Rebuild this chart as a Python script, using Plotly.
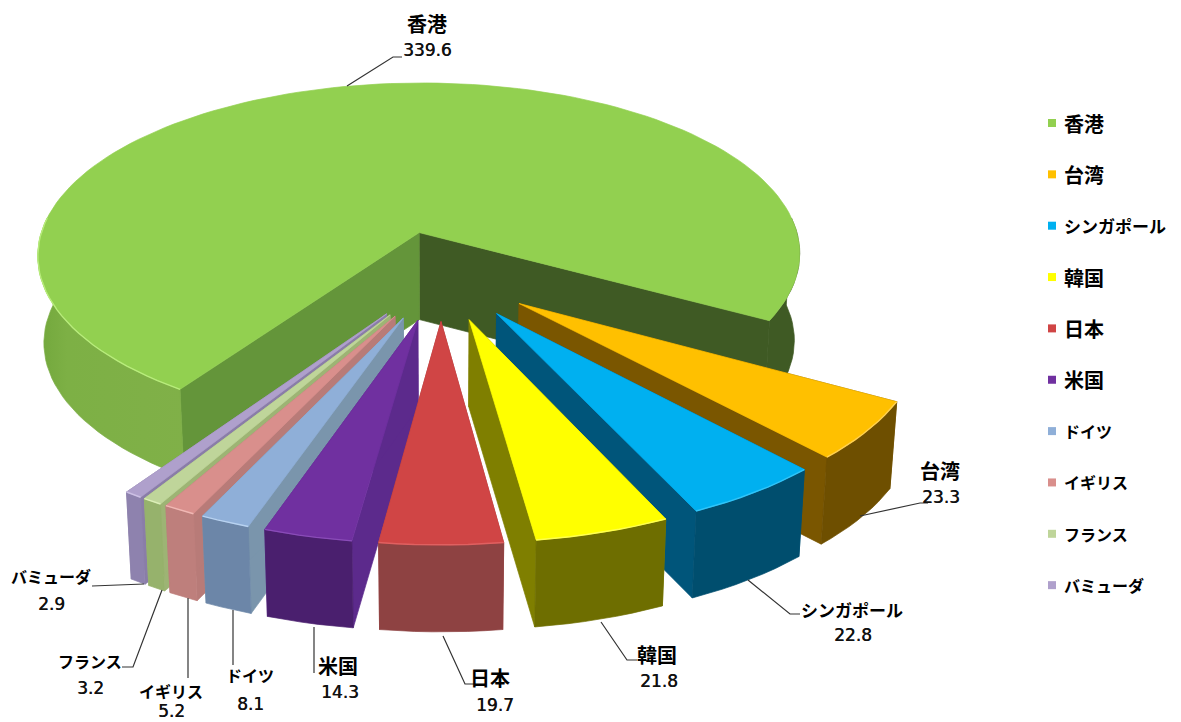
import math
import plotly.graph_objects as go

# Share of the total by market, clockwise from the first slice
categories = ["香港", "台湾", "シンガポール", "韓国", "日本", "米国", "ドイツ", "イギリス", "フランス", "バミューダ"]
values = [339.6, 23.3, 22.8, 21.8, 19.7, 14.3, 8.1, 5.2, 3.2, 2.9]
value_labels = ["339.6", "23.3", "22.8", "21.8", "19.7", "14.3", "8.1", "5.2", "3.2", "2.9"]
name_sizes = [20, 20, 17, 20, 20, 20, 16, 16, 16, 16]

top_colors = ["#92D050", "#FFC000", "#00B0F0", "#FFFF00", "#D04545", "#7030A0", "#8FAFD8", "#D98F8C", "#BFD59A", "#AFA0CC"]
wall_colors = ["#7BAD45", "#6E4F00", "#004E6E", "#6E6E00", "#8E4242", "#4A1F6E", "#6C86A8", "#BE7F7C", "#96B26C", "#8E82AE"]
face_colors = ["#64953A", "#7A5600", "#00557A", "#7F7F00", "#A03A3A", "#5C2A8C", "#7A95AC", "#B87B78", "#9DB474", "#8A7DA8"]
rim_colors = ["#B8EC7C", "#FFD050", "#30C4F8", "#FFFF50", "#E06060", "#8A4CB8", "#B8D2F0", "#F0B8B4", "#DCEEB8", "#CCC0E4"]

# Projection of the tilted pie onto the page, in page pixels
CX, CY = 441.0, 275.0
RX, RY = 390.0, 180.0
PERSPECTIVE = 0.133
EXPLODE = 0.25
DEPTH = 87.0
FIRST_ANGLE = 214.0


def project(xw, yw, z):
    s = 1.0 / (1.0 - PERSPECTIVE * yw)
    return CX + RX * xw * s * (1.0 - 0.015 * z), CY + RY * yw * s + DEPTH * z


def slice_point(mid, r, ang, z):
    m, a = math.radians(mid), math.radians(ang)
    xw = EXPLODE * math.sin(m) + r * math.sin(a)
    yw = -EXPLODE * math.cos(m) - r * math.cos(a)
    return project(xw, yw, z)


def arc(mid, a0, a1, z, step=2.0):
    n = max(2, int(abs(a1 - a0) / step) + 1)
    pts = [slice_point(mid, 1.0, a0 + (a1 - a0) * i / (n - 1), z) for i in range(n)]
    return pts


def front_spans(a0, a1):
    # Parts of the arc that face the viewer, clock angles 85..275 modulo 360
    spans = []
    for base in (85.0, 445.0):
        lo, hi = max(a0, base), min(a1, base + 190.0)
        if lo < hi:
            spans.append((lo, hi))
    return spans


fig = go.Figure()


def poly(pts, color, gradient=None):
    xs = [p[0] for p in pts] + [pts[0][0]]
    ys = [p[1] for p in pts] + [pts[0][1]]
    kw = dict(fillcolor=color)
    if gradient:
        kw = dict(fillgradient=dict(type="horizontal", colorscale=gradient))
    fig.add_trace(go.Scatter(x=xs, y=ys, mode="lines", fill="toself", line=dict(width=0.7, color=color),
                             hoverinfo="skip", showlegend=False, **kw))


def line(pts, color, width):
    fig.add_trace(go.Scatter(x=[p[0] for p in pts], y=[p[1] for p in pts], mode="lines",
                             line=dict(color=color, width=width), hoverinfo="skip", showlegend=False))


total = sum(values)
spans = []
angle = FIRST_ANGLE
for v in values:
    sweep = v / total * 360.0
    spans.append((angle, angle + sweep))
    angle += sweep


def draw_slice(i):
    a0, a1 = spans[i]
    mid = (a0 + a1) / 2
    apex_top, apex_bot = slice_point(mid, 0, 0, 0), slice_point(mid, 0, 0, 1)
    start_face = [apex_top, slice_point(mid, 1, a0, 0), slice_point(mid, 1, a0, 1), apex_bot]
    end_face = [apex_top, slice_point(mid, 1, a1, 0), slice_point(mid, 1, a1, 1), apex_bot]
    if i == 0:
        poly(end_face, "#3F5A24")
        poly(start_face, face_colors[0])
    else:
        poly(start_face, face_colors[i])
        poly(end_face, face_colors[i])
    for lo, hi in front_spans(a0, a1):
        pts = arc(mid, lo, hi, 0) + arc(mid, hi, lo, 1)
        if i == 0 and lo >= 445:
            poly(pts, "#3F5A24")
        elif i == 0:
            poly(pts, wall_colors[0], [[0, "#72A73C"], [0.2, "#7DB045"], [1, "#80B048"]])
        else:
            poly(pts, wall_colors[i])
    top = [apex_top] + arc(mid, a0, a1, 0)
    poly(top, top_colors[i])
    for lo, hi in front_spans(a0, a1):
        if i == 0 and lo >= 445:
            continue
        line(arc(mid, lo, hi, 0), rim_colors[i], 1.4)


# Back to front: the large slice, then the narrow ones, then outward to the middle
for i in [0, 9, 8, 7, 6, 5, 1, 2, 3, 4]:
    draw_slice(i)

# Label text centres and leader bends, in page pixels
name_pos = [(427, 23), (940, 470), (852, 609), (657, 654), (490, 677), (338, 665), (250, 675), (171, 691), (90, 661), (51, 576)]
value_pos = [(427, 50), (941, 497), (853, 635), (659, 681), (495, 705), (340, 692), (250, 704), (171, 711), (90, 688), (51, 604)]
leaders = [
    [(347, 86), (393, 57), (402, 57)],
    [(860, 516), (920, 503), (928, 503)],
    [(748, 580), (790, 614), (800, 614)],
    [(601, 622), (627, 660), (637, 660)],
    [(443, 636), (465, 684), (475, 684)],
    [(314, 627), (314, 673)],
    [(233, 610), (233, 665)],
    [(188, 598), (188, 678)],
    [(162, 590), (133, 667), (122, 667)],
    [(144, 584), (92, 586)],
]
for pts in leaders:
    line(pts, "#333333", 1.2)


def name_font(i):
    return dict(family="Noto Sans CJK JP", size=name_sizes[i], color="#000000", weight=700)


VALUE_FONT = dict(family="DejaVu Sans", size=17, color="#111111", shadow="0.4px 0 0 #111111")
annotations = []
for i in range(len(categories)):
    annotations.append(dict(x=name_pos[i][0], y=name_pos[i][1], text=categories[i], showarrow=False,
                            xref="x", yref="y", font=name_font(i)))
    annotations.append(dict(x=value_pos[i][0], y=value_pos[i][1], text=value_labels[i], showarrow=False,
                            xref="x", yref="y", font=VALUE_FONT))

# Key on the right
LEGEND_X, LEGEND_Y0, LEGEND_DY = 1052, 123, 51.35
for i, name in enumerate(categories):
    y = LEGEND_Y0 + i * LEGEND_DY
    fig.add_trace(go.Scatter(x=[LEGEND_X], y=[y], mode="markers", name=name, hoverinfo="name",
                             marker=dict(symbol="square", size=8, color=top_colors[i], line=dict(width=0)),
                             showlegend=False))
    annotations.append(dict(x=LEGEND_X + 10, y=y, text=name, showarrow=False, xref="x", yref="y",
                            xanchor="left", font=name_font(i)))

fig.update_layout(
    width=1181, height=722, margin=dict(l=0, r=0, t=0, b=0),
    paper_bgcolor="white", plot_bgcolor="white", annotations=annotations,
    xaxis=dict(range=[0, 1181], visible=False, fixedrange=True),
    yaxis=dict(range=[722, 0], visible=False, fixedrange=True),
    showlegend=False,
)
fig.write_html("out.html")
